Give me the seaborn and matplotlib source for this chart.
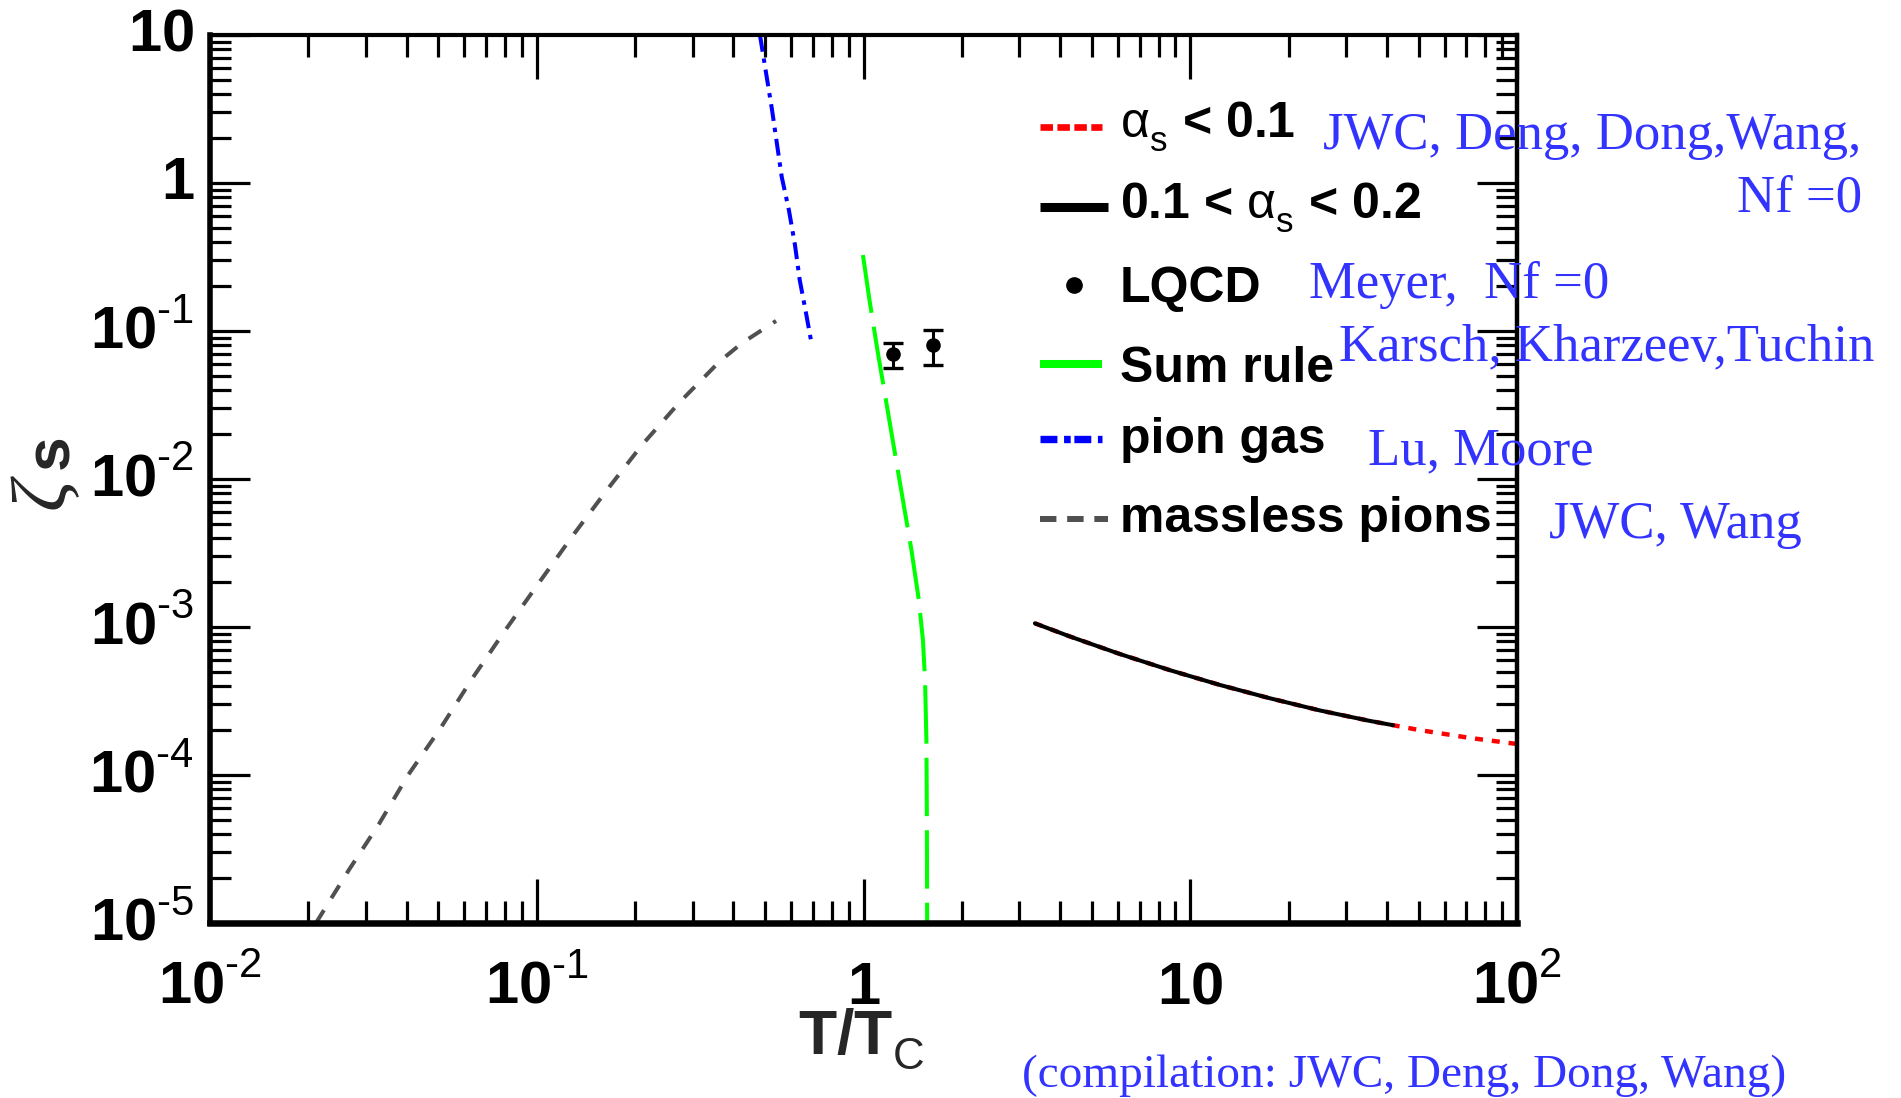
import numpy as np
import matplotlib
matplotlib.use("Agg")
import matplotlib.pyplot as plt
import seaborn as sns
from matplotlib.ticker import LogLocator, NullFormatter

# ---------------- data ----------------
# massless pions
t_massless = [0.0211, 0.0266, 0.0329, 0.0404, 0.0506, 0.0633, 0.0794, 0.1009,
              0.128, 0.164, 0.210, 0.274, 0.364, 0.425, 0.540]
zeta_massless = [1.0e-5, 2.28e-5, 4.67e-5, 1.0e-4, 2.05e-4, 4.45e-4, 9.25e-4,
                 1.95e-3, 4.06e-3, 8.43e-3, 0.0170, 0.0331, 0.0627, 0.0830, 0.117]

# pion gas
t_pion_gas = [0.482, 0.525, 0.562, 0.591, 0.617, 0.638, 0.667, 0.695]
zeta_pion_gas = [10.0, 3.11, 1.10, 0.658, 0.381, 0.221, 0.132, 0.0803]

# sum rule
t_sum_rule = [0.996, 1.043, 1.103, 1.171, 1.243, 1.320, 1.402, 1.477, 1.520,
              1.543, 1.558, 1.563, 1.566]
zeta_sum_rule = [0.326, 0.162, 0.0744, 0.0342, 0.0157, 7.21e-3, 3.31e-3, 1.52e-3,
                 8.16e-4, 4.38e-4, 1.72e-4, 4.97e-5, 1.0e-5]

# lattice QCD points
t_lqcd = [1.227, 1.634]
zeta_lqcd = [0.0700, 0.0803]
zeta_lqcd_err = [0.0135, 0.021]

# perturbative curve; alpha_s < 0.1 above t_alpha_split
t_pert = [3.346, 4.281, 6.089, 8.662, 12.32, 17.52, 24.93, 35.45, 41.78,
          50.42, 71.7, 100.0]
zeta_pert = [1.059e-3, 8.63e-4, 6.57e-4, 5.11e-4, 4.06e-4, 3.30e-4, 2.73e-4,
             2.32e-4, 2.17e-4, 2.01e-4, 1.78e-4, 1.62e-4]
t_alpha_split = 41.78

x_ticks = [1e-2, 1e-1, 1, 10, 1e2]
x_tick_labels = [r"$\mathbf{10}^{\text{-2}}$", r"$\mathbf{10}^{\text{-1}}$",
                 r"$\mathbf{1}$", r"$\mathbf{10}$", r"$\mathbf{10}^{\text{2}}$"]
y_ticks = [1e-5, 1e-4, 1e-3, 1e-2, 1e-1, 1, 10]
y_tick_labels = [r"$\mathbf{10}^{\text{-5}}$", r"$\mathbf{10}^{\text{-4}}$",
                 r"$\mathbf{10}^{\text{-3}}$", r"$\mathbf{10}^{\text{-2}}$",
                 r"$\mathbf{10}^{\text{-1}}$", r"$\mathbf{1}$", r"$\mathbf{10}$"]

legend_labels = [r"$\mathrm{\alpha_{s}}$ < 0.1", r"0.1 < $\mathrm{\alpha_{s}}$ < 0.2",
                 "LQCD", "Sum rule", "pion gas", "massless pions"]

# ---------------- style ----------------
sns.set_theme(style="ticks")
plt.rcParams["font.family"] = ["Liberation Sans", "DejaVu Sans"]
plt.rcParams["mathtext.fontset"] = "custom"
plt.rcParams["mathtext.rm"] = "Liberation Sans"
plt.rcParams["mathtext.bf"] = "Liberation Sans:bold"
plt.rcParams["mathtext.it"] = "Liberation Serif:italic"
plt.rcParams["mathtext.sf"] = "Liberation Sans"
plt.rcParams["axes.facecolor"] = "white"
plt.rcParams["figure.facecolor"] = "white"

# raise superscripts / drop subscripts a bit further (ROOT-like exponents)
try:
    import matplotlib._mathtext as _mt
    _mt.FontConstantsBase.sup1 = 0.95
    _mt.FontConstantsBase.sub1 = 0.55
except Exception:
    pass

W, H = 1901, 1098
fig = plt.figure(figsize=(W / 100, H / 100), dpi=100)
ax = fig.add_axes([210 / W, 1 - 923 / H, 1307 / W, 888 / H])
ax.set_xscale("log")
ax.set_yscale("log")

RED, GREEN, BLUE, GRAY = "#ff0000", "#00ff00", "#0000ff", "#505050"

# perturbative curve: red dotted underneath, solid black for 0.1 < alpha_s < 0.2
sns.lineplot(x=t_pert, y=zeta_pert, ax=ax, color=RED, linewidth=3.2,
             sort=False, estimator=None, errorbar=None, legend=False)
ax.lines[-1].set_dashes([1.8, 2.0])
t_black = [t for t in t_pert if t <= t_alpha_split]
z_black = [z for t, z in zip(t_pert, zeta_pert) if t <= t_alpha_split]
sns.lineplot(x=t_black, y=z_black, ax=ax, color="black", linewidth=2.9,
             sort=False, estimator=None, errorbar=None, legend=False)

# sum rule
sns.lineplot(x=t_sum_rule, y=zeta_sum_rule, ax=ax, color=GREEN, linewidth=2.9,
             sort=False, estimator=None, errorbar=None, legend=False)
ax.lines[-1].set_dashes([14.5, 3.5])

# pion gas
sns.lineplot(x=t_pion_gas, y=zeta_pion_gas, ax=ax, color=BLUE, linewidth=2.9,
             sort=False, estimator=None, errorbar=None, legend=False)
ax.lines[-1].set_dashes([4.2, 1.7, 1.1, 1.7])

# massless pions
sns.lineplot(x=t_massless, y=zeta_massless, ax=ax, color=GRAY, linewidth=2.9,
             sort=False, estimator=None, errorbar=None, legend=False)
ax.lines[-1].set_dashes([3.75, 3.5])

# lattice points with error bars
ax.errorbar(t_lqcd, zeta_lqcd, yerr=zeta_lqcd_err, fmt="none", ecolor="black",
            elinewidth=2.2, capsize=7, capthick=2.4, zorder=4)
sns.scatterplot(x=t_lqcd, y=zeta_lqcd, ax=ax, color="black", s=110,
                edgecolor="black", linewidth=0, zorder=5, legend=False)

# ---------------- axes ----------------
ax.set_xlim(1e-2, 1e2)
ax.set_ylim(1e-5, 10)
ax.set_xticks(x_ticks, labels=x_tick_labels)
ax.set_yticks(y_ticks, labels=y_tick_labels)
ax.xaxis.set_minor_locator(LogLocator(base=10, subs=np.arange(2, 10)))
ax.yaxis.set_minor_locator(LogLocator(base=10, subs=np.arange(2, 10)))
ax.xaxis.set_minor_formatter(NullFormatter())
ax.yaxis.set_minor_formatter(NullFormatter())
ax.grid(False)

ax.tick_params(axis="both", which="both", direction="in", top=True, right=True,
               colors="black")
ax.tick_params(axis="x", which="major", length=32, width=2.3, pad=58, labelsize=43)
ax.tick_params(axis="x", which="minor", length=16, width=2.3)
ax.tick_params(axis="y", which="major", length=29, width=2.3, pad=11.5, labelsize=43)
ax.tick_params(axis="y", which="minor", length=15, width=2.3)
for t in ax.xaxis.get_major_ticks():
    t.label1.set_verticalalignment("baseline")
for t in ax.yaxis.get_major_ticks():
    t.label1.set_verticalalignment("center")

for side, lw in [("top", 3.0), ("right", 3.2), ("left", 4.0), ("bottom", 4.7)]:
    ax.spines[side].set_visible(True)
    ax.spines[side].set_linewidth(lw)
    ax.spines[side].set_color("black")

# axis titles
fig.text(798 / W, 1 - 1054 / H, r"$\mathbf{T/T}_{\mathrm{C}}$", fontsize=45,
         ha="left", va="baseline")
fig.text(46 / W, 1 - 493 / H, r"$\zeta$", fontsize=56, rotation=90,
         ha="center", va="center")
fig.text(52 / W, 1 - 452 / H, "s", fontsize=45, fontweight="bold", rotation=90,
         ha="center", va="center")

# ---------------- legend ----------------
def fy(py):
    return (923 - py) / 888.0

def fx(px):
    return (px - 210) / 1307.0

handle_specs = [
    dict(color=RED, lw=4.8, dashes=[1.87, 0.67], x1=1102, y=127),
    dict(color="black", lw=6.5, dashes=None, x1=1108, y=207),
    None,
    dict(color=GREEN, lw=5.8, dashes=None, x1=1102, y=364),
    dict(color=BLUE, lw=5.3, dashes=[2.3, 0.9, 0.9, 0.5], x1=1102, y=439),
    dict(color=GRAY, lw=4.3, dashes=[2.75, 1.8], x1=1108, y=519),
]
label_baselines = [137, 218, 302, 382, 453, 532]

for spec, lab, base in zip(handle_specs, legend_labels, label_baselines):
    if spec is None:
        ax.plot([fx(1074)], [fy(285)], "o", color="black", ms=11,
                transform=ax.transAxes, clip_on=False)
    else:
        ln, = ax.plot([fx(1040), fx(spec["x1"])], [fy(spec["y"])] * 2,
                      color=spec["color"], lw=spec["lw"], transform=ax.transAxes,
                      clip_on=False, solid_capstyle="butt")
        if spec["dashes"] is not None:
            ln.set_dashes(spec["dashes"])
    ax.text(fx(1120), fy(base), lab, transform=ax.transAxes, fontsize=36,
            fontweight="bold", ha="left", va="baseline", color="black")

# ---------------- references ----------------
REF_BLUE = "#3333ff"
refs = [
    ("JWC, Deng, Dong,Wang,", 1323, 149, "left", 38),
    ("Nf =0", 1862, 212, "right", 38),
    ("Meyer,  Nf =0", 1309, 298, "left", 38),
    ("Karsch, Kharzeev,Tuchin", 1339, 360, "left", 38),
    ("Lu, Moore", 1368, 464, "left", 38),
    ("JWC, Wang", 1549, 538, "left", 38),
    ("(compilation: JWC, Deng, Dong, Wang)", 1022, 1087, "left", 34),
]
for txt, px, py, ha, fs in refs:
    fig.text(px / W, 1 - py / H, txt, fontsize=fs, color=REF_BLUE,
             family=["Liberation Serif", "DejaVu Serif"], ha=ha, va="baseline")

fig.savefig("out.png", dpi=100, facecolor="white")
